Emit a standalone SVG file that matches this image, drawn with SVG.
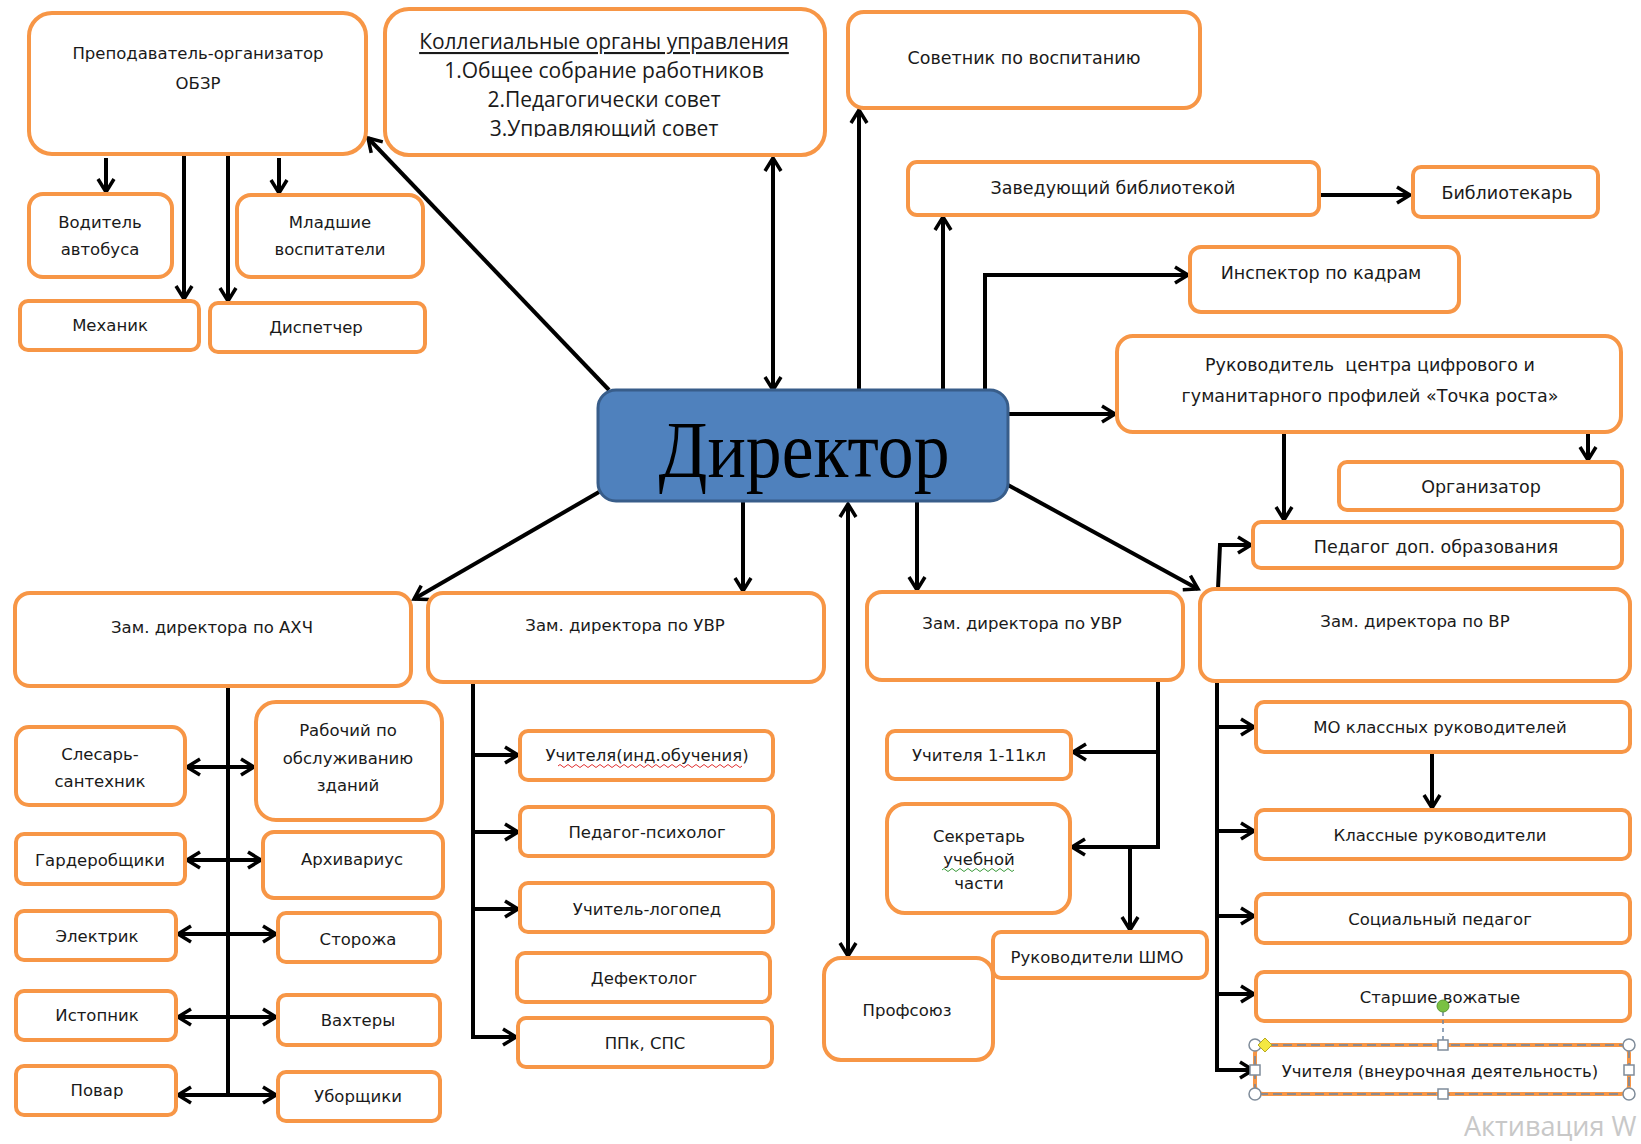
<svg xmlns="http://www.w3.org/2000/svg" width="1641" height="1144" viewBox="0 0 1641 1144">
<defs>
<style>
.b{fill:#fff;stroke:#F79646;stroke-width:4}
.t{font-family:"DejaVu Sans",Verdana,sans-serif;font-size:16.5px;fill:#1a1a1a;text-anchor:middle;dominant-baseline:central}
.r{font-family:"DejaVu Sans",Verdana,sans-serif;font-size:17.5px;fill:#1a1a1a;text-anchor:middle;dominant-baseline:central}
.k{font-family:"Open Sans","DejaVu Sans",sans-serif;font-size:21px;fill:#1a1a1a;text-anchor:middle;dominant-baseline:central}
.c{fill:none;stroke:#000;stroke-width:4}
.a{marker-end:url(#ah)}
.d{marker-start:url(#ah);marker-end:url(#ah)}
.h{fill:#fff;stroke:#7f8c9a;stroke-width:1.5}
</style>
<marker id="ah" viewBox="0 0 20 20" refX="17" refY="10" markerWidth="20" markerHeight="20" markerUnits="userSpaceOnUse" orient="auto-start-reverse">
<path d="M4,2 L17,10 L4,18" fill="none" stroke="#000" stroke-width="3.5"/>
</marker>
<clipPath id="kc"><rect x="385" y="9" width="440" height="128"/></clipPath>
</defs>
<rect width="1641" height="1144" fill="#fff"/>

<g id="connectors">
<path class="c a" d="M106,158 L106,192"/>
<path class="c a" d="M184,155 L184,299"/>
<path class="c a" d="M228,155 L228,301"/>
<path class="c a" d="M279,158 L279,193"/>
<path class="c a" d="M609,390 L368,138"/>
<path class="c d" d="M773,158 L773,390"/>
<path class="c a" d="M859,390 L859,110"/>
<path class="c a" d="M943,390 L943,217"/>
<path class="c a" d="M985,390 L985,275 L1188,275"/>
<path class="c a" d="M1320,195 L1410,195"/>
<path class="c a" d="M1008,414 L1115,414"/>
<path class="c a" d="M1588,432 L1588,460"/>
<path class="c a" d="M1284,432 L1284,520"/>
<path class="c a" d="M1218,589 L1220,545 L1251,545"/>
<path class="c a" d="M1008,485 L1198,589"/>
<path class="c a" d="M599,492 L414,599"/>
<path class="c a" d="M743,502 L743,591"/>
<path class="c d" d="M848,504 L848,956"/>
<path class="c a" d="M917,502 L917,590"/>
<path class="c" d="M228,686 L228,1095"/>
<path class="c d" d="M187,767 L254,767"/>
<path class="c d" d="M187,860 L261,860"/>
<path class="c d" d="M178,934 L276,934"/>
<path class="c d" d="M178,1017 L276,1017"/>
<path class="c d" d="M178,1095 L276,1095"/>
<path class="c a" d="M473,682 L473,1037 L516,1037"/>
<path class="c a" d="M473,755 L518,755"/>
<path class="c a" d="M473,832 L518,832"/>
<path class="c a" d="M473,909 L518,909"/>
<path class="c a" d="M1158,680 L1158,847 L1072,847"/>
<path class="c a" d="M1158,752 L1073,752"/>
<path class="c a" d="M1130,847 L1130,930"/>
<path class="c a" d="M1217,681 L1217,1070 L1253,1070"/>
<path class="c a" d="M1217,727 L1254,727"/>
<path class="c a" d="M1217,831 L1254,831"/>
<path class="c a" d="M1217,916 L1254,916"/>
<path class="c a" d="M1217,994 L1254,994"/>
<path class="c a" d="M1432,752 L1432,808"/>
</g>

<g id="prep"><rect class="b" x="29" y="13" width="337" height="141" rx="23"/><text class="t" x="198" y="53">Преподаватель-организатор</text><text class="t" x="198" y="83">ОБЗР</text></g>
<g id="vod"><rect class="b" x="29" y="194" width="143" height="83" rx="14"/><text class="t" x="100" y="222">Водитель</text><text class="t" x="100" y="249">автобуса</text></g>
<g id="mlad"><rect class="b" x="237" y="195" width="186" height="82" rx="14"/><text class="t" x="330" y="222">Младшие</text><text class="t" x="330" y="249">воспитатели</text></g>
<g id="mech"><rect class="b" x="20" y="301" width="179" height="49" rx="8"/><text class="t" x="110" y="325">Механик</text></g>
<g id="disp"><rect class="b" x="210" y="303" width="215" height="49" rx="8"/><text class="t" x="316" y="327">Диспетчер</text></g>
<g id="koll"><rect class="b" x="385" y="9" width="440" height="146" rx="24"/><g clip-path="url(#kc)"><text class="k" x="604" y="41" text-decoration="underline">Коллегиальные органы управления</text><text class="k" x="604" y="70">1.Общее собрание работников</text><text class="k" x="604" y="99">2.Педагогически совет</text><text class="k" x="604" y="128">3.Управляющий совет</text></g></g>
<g id="sovet"><rect class="b" x="848" y="12" width="352" height="96" rx="16"/><text class="r" x="1024" y="58">Советник по воспитанию</text></g>
<g id="zavbib"><rect class="b" x="908" y="162" width="411" height="53" rx="9"/><text class="r" x="1113" y="188">Заведующий библиотекой</text></g>
<g id="bibl"><rect class="b" x="1413" y="167" width="185" height="50" rx="8"/><text class="r" x="1507" y="193">Библиотекарь</text></g>
<g id="insp"><rect class="b" x="1190" y="247" width="269" height="65" rx="11"/><text class="r" x="1321" y="273">Инспектор по кадрам</text></g>
<g id="ruk"><rect class="b" x="1117" y="336" width="504" height="96" rx="16"/><text class="r" x="1370" y="365" xml:space="preserve">Руководитель  центра цифрового и</text><text class="r" x="1370" y="396">гуманитарного профилей «Точка роста»</text></g>
<g id="org"><rect class="b" x="1339" y="462" width="283" height="48" rx="8"/><text class="r" x="1481" y="487">Организатор</text></g>
<g id="peddop"><rect class="b" x="1253" y="522" width="369" height="46" rx="8"/><text class="r" x="1436" y="547">Педагог доп. образования</text></g>

<g id="director"><rect x="598" y="390" width="410" height="111" rx="18" fill="#4F81BD" stroke="#385D8A" stroke-width="3"/><text x="804" y="477" font-family="'Liberation Serif','Times New Roman',serif" font-size="80" fill="#000" text-anchor="middle" textLength="291" lengthAdjust="spacingAndGlyphs">Директор</text></g>

<g id="zamahc"><rect class="b" x="15" y="593" width="396" height="93" rx="15"/><text class="t" x="212" y="627">Зам. директора по АХЧ</text></g>
<g id="slesar"><rect class="b" x="16" y="727" width="169" height="78" rx="13"/><text class="t" x="100" y="754">Слесарь-</text><text class="t" x="100" y="781">сантехник</text></g>
<g id="rabochiy"><rect class="b" x="256" y="702" width="186" height="118" rx="20"/><text class="t" x="348" y="730">Рабочий по</text><text class="t" x="348" y="758">обслуживанию</text><text class="t" x="348" y="785">зданий</text></g>
<g id="garder"><rect class="b" x="16" y="834" width="169" height="50" rx="8"/><text class="t" x="100" y="860">Гардеробщики</text></g>
<g id="arhiv"><rect class="b" x="263" y="832" width="180" height="66" rx="11"/><text class="t" x="352" y="859">Архивариус</text></g>
<g id="elektrik"><rect class="b" x="16" y="911" width="160" height="49" rx="8"/><text class="t" x="97" y="936">Электрик</text></g>
<g id="storozh"><rect class="b" x="278" y="913" width="162" height="49" rx="8"/><text class="t" x="358" y="939">Сторожа</text></g>
<g id="istopnik"><rect class="b" x="16" y="991" width="160" height="49" rx="8"/><text class="t" x="97" y="1015">Истопник</text></g>
<g id="vahtery"><rect class="b" x="278" y="995" width="162" height="50" rx="8"/><text class="t" x="358" y="1020">Вахтеры</text></g>
<g id="povar"><rect class="b" x="16" y="1066" width="160" height="49" rx="8"/><text class="t" x="97" y="1090">Повар</text></g>
<g id="uborsh"><rect class="b" x="278" y="1072" width="162" height="49" rx="8"/><text class="t" x="358" y="1096">Уборщики</text></g>

<g id="zamuvr1"><rect class="b" x="428" y="593" width="396" height="89" rx="15"/><text class="t" x="625" y="625">Зам. директора по УВР</text></g>
<g id="uchind"><rect class="b" x="520" y="731" width="253" height="49" rx="8"/><text class="t" x="647" y="755">Учителя(инд.обучения)</text><path d="M558,766 q2,-3 4,0 t4,0 t4,0 t4,0 t4,0 t4,0 t4,0 t4,0 t4,0 t4,0 t4,0 t4,0 t4,0 t4,0 t4,0 t4,0 t4,0 t4,0 t4,0 t4,0 t4,0 t4,0 t4,0 t4,0 t4,0 t4,0 t4,0 t4,0 t4,0 t4,0 t4,0 t4,0 t4,0 t4,0 t4,0 t4,0 t4,0 t4,0 t4,0 t4,0 t4,0 t4,0 t4,0 t4,0 t4,0 t4,0" fill="none" stroke="#e03030" stroke-width="1"/></g>
<g id="pedpsih"><rect class="b" x="520" y="807" width="253" height="49" rx="8"/><text class="t" x="647" y="832">Педагог-психолог</text></g>
<g id="logoped"><rect class="b" x="520" y="883" width="253" height="49" rx="8"/><text class="t" x="647" y="909">Учитель-логопед</text></g>
<g id="defekt"><rect class="b" x="517" y="953" width="253" height="49" rx="8"/><text class="t" x="644" y="978">Дефектолог</text></g>
<g id="ppk"><rect class="b" x="518" y="1018" width="254" height="49" rx="8"/><text class="t" x="645" y="1043">ППк, СПС</text></g>

<g id="zamuvr2"><rect class="b" x="867" y="592" width="316" height="88" rx="15"/><text class="t" x="1022" y="623">Зам. директора по УВР</text></g>
<g id="uch111"><rect class="b" x="887" y="731" width="184" height="48" rx="8"/><text class="t" x="979" y="755">Учителя 1-11кл</text></g>
<g id="sekr"><rect class="b" x="887" y="804" width="183" height="109" rx="18"/><text class="t" x="979" y="836">Секретарь</text><text class="t" x="979" y="859">учебной</text><path d="M942,870 q2,-3 4,0 t4,0 t4,0 t4,0 t4,0 t4,0 t4,0 t4,0 t4,0 t4,0 t4,0 t4,0 t4,0 t4,0 t4,0 t4,0 t4,0 t4,0" fill="none" stroke="#3a9a3a" stroke-width="1"/><text class="t" x="979" y="883">части</text></g>
<g id="shmo"><rect class="b" x="993" y="932" width="214" height="46" rx="8"/><text class="t" x="1097" y="957">Руководители ШМО</text></g>
<g id="profsoyuz"><rect class="b" x="824" y="958" width="169" height="102" rx="17"/><text class="t" x="907" y="1010">Профсоюз</text></g>

<g id="zamvr"><rect class="b" x="1200" y="589" width="430" height="92" rx="15"/><text class="t" x="1415" y="621">Зам. директора по ВР</text></g>
<g id="mo"><rect class="b" x="1256" y="702" width="374" height="50" rx="8"/><text class="t" x="1440" y="727">МО классных руководителей</text></g>
<g id="klass"><rect class="b" x="1256" y="810" width="374" height="49" rx="8"/><text class="t" x="1440" y="835">Классные руководители</text></g>
<g id="soc"><rect class="b" x="1256" y="894" width="374" height="49" rx="8"/><text class="t" x="1440" y="919">Социальный педагог</text></g>
<g id="vozh"><rect class="b" x="1256" y="972" width="374" height="49" rx="8"/><text class="t" x="1440" y="997">Старшие вожатые</text></g>
<g id="vneur"><rect class="b" x="1255" y="1045" width="374" height="49" rx="8"/><text class="t" x="1440" y="1071" font-size="16">Учителя (внеурочная деятельность)</text></g>

<g id="selection">
<rect x="1255" y="1045" width="374" height="49" fill="none" stroke="#6f86a3" stroke-width="1.5" stroke-dasharray="9,5"/>
<line x1="1443" y1="1012" x2="1443" y2="1040" stroke="#6f86a3" stroke-width="1.5" stroke-dasharray="4,4"/>
<circle cx="1443" cy="1006" r="6" fill="#7ac143" stroke="#5a9a30" stroke-width="1"/>
<circle class="h" cx="1255" cy="1045" r="6"/><circle class="h" cx="1629" cy="1045" r="6"/>
<circle class="h" cx="1255" cy="1094" r="6"/><circle class="h" cx="1629" cy="1094" r="6"/>
<rect class="h" x="1438" y="1040" width="10" height="10"/><rect class="h" x="1438" y="1089" width="10" height="10"/>
<rect class="h" x="1250" y="1065" width="10" height="10"/><rect class="h" x="1624" y="1065" width="10" height="10"/>
<path d="M1265,1038 L1272,1045 L1265,1052 L1258,1045 Z" fill="#f4e842" stroke="#b8a820" stroke-width="1"/>
</g>

<text x="1464" y="1136" font-family="'Open Sans','Noto Sans',sans-serif" font-size="27" fill="#c8c8c8">Активация W</text>
</svg>
